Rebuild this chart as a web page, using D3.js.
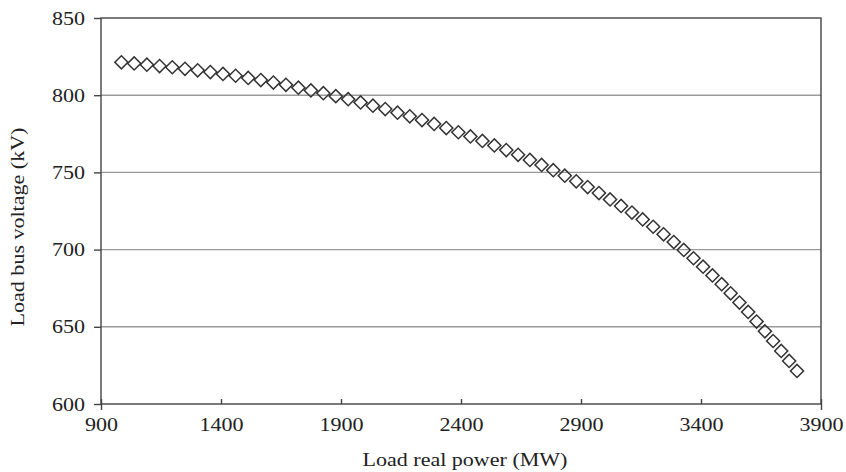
<!DOCTYPE html>
<html><head><meta charset="utf-8">
<script src="https://cdn.jsdelivr.net/npm/d3@7"></script>
<style>
body{margin:0;background:#fff;}
svg text{font-family:"Liberation Serif","Times New Roman",serif;fill:#222;}
</style></head>
<body><svg id="c" width="846" height="472"></svg>
<script>
const loadPower = [985,1038.1,1091.1,1144.0,1197.0,1249.9,1302.8,1355.6,1408.3,1460.9,1513.4,1566.0,1618.2,1670.5,1722.5,1774.6,1826.5,1878.3,1930.0,1981.6,2033.0,2084.3,2135.5,2186.5,2237.4,2288.1,2338.6,2389.0,2439.2,2489.2,2539.0,2588.6,2638.0,2687.0,2735.8,2784.4,2832.4,2880.2,2927.7,2974.7,3021.0,3067.0,3112.4,3157.0,3200.9,3244.1,3286.5,3328.1,3368.8,3408.6,3447.7,3486.3,3523.5,3560.2,3596.4,3631.5,3666.2,3700.5,3734.2,3767.3,3800];
const busVoltage = [821.3,820.6,819.8,818.9,818.1,817.1,816.1,815.0,813.8,812.6,811.2,809.8,808.2,806.7,804.9,803.1,801.3,799.4,797.4,795.3,793.2,791.0,788.7,786.3,783.9,781.4,778.7,776.0,773.3,770.4,767.5,764.5,761.4,758.1,754.8,751.4,747.9,744.2,740.5,736.6,732.5,728.3,724.0,719.5,714.8,709.9,704.9,699.8,694.4,688.9,683.3,677.6,671.7,665.7,659.6,653.4,647.1,640.8,634.4,627.9,621.4];
const xTicks = [900,1400,1900,2400,2900,3400,3900];
const yTicks = [600,650,700,750,800,850];
const xTitle = "Load real power (MW)";
const yTitle = "Load bus voltage (kV)";

const svg = d3.select("#c");
const L = 101, R = 821, T = 18, B = 404;
const SX = 1.16, FS = 19;
const x = d3.scaleLinear().domain([900,3900]).range([L,R]);
const y = d3.scaleLinear().domain([600,850]).range([B,T]);

// gridlines
svg.append("g").selectAll("line").data(yTicks.filter(v=>v>600 && v<850)).join("line")
  .attr("x1",L).attr("x2",R).attr("y1",d=>y(d)).attr("y2",d=>y(d))
  .attr("stroke","#9a9a9a").attr("stroke-width",1.4);

// border
svg.append("rect").attr("x",L).attr("y",T).attr("width",R-L).attr("height",B-T)
  .attr("fill","none").attr("stroke","#444").attr("stroke-width",1.4);

// y axis
const ya = svg.append("g").attr("transform",`translate(${L},0)`)
  .call(d3.axisLeft(y).tickValues(yTicks).tickSize(7).tickPadding(8).tickFormat(d3.format("d")));
ya.select(".domain").remove();
ya.selectAll("line").attr("stroke","#444").attr("stroke-width",1.4);
ya.selectAll("text").style("font-size",FS+"px").attr("x",-16/SX).attr("transform",`scale(${SX},1)`);

// x axis (ticks inward)
const xa = svg.append("g").attr("transform",`translate(0,${B})`)
  .call(d3.axisBottom(x).tickValues(xTicks).tickSize(0).tickPadding(0).tickFormat(d3.format("d")));
xa.select(".domain").remove();
xa.selectAll(".tick line").attr("y1",-5).attr("y2",d=> (d===900||d===3900)?6:0).attr("stroke","#444").attr("stroke-width",1.4);
xa.selectAll("text").style("font-size",FS+"px").attr("y",14).attr("transform",`scale(${SX},1)`);

// markers
const sym = d3.symbol().type(d3.symbolSquare).size(86);
svg.append("g").selectAll("path").data(loadPower.map((p,i)=>[p,busVoltage[i]])).join("path")
  .attr("d",sym)
  .attr("transform",d=>`translate(${x(d[0])},${y(d[1])}) rotate(45)`)
  .attr("fill","none").attr("stroke","#333").attr("stroke-width",1.5);

// titles
svg.append("text").attr("transform",`translate(${(L+R)/2+4},466) scale(${SX},1)`)
  .attr("text-anchor","middle").style("font-size",FS+"px").text(xTitle);
svg.append("text").attr("transform",`translate(24,${(T+B)/2+16}) rotate(-90) scale(${SX},1)`)
  .attr("text-anchor","middle").style("font-size",FS+"px").text(yTitle);
</script></body></html>
